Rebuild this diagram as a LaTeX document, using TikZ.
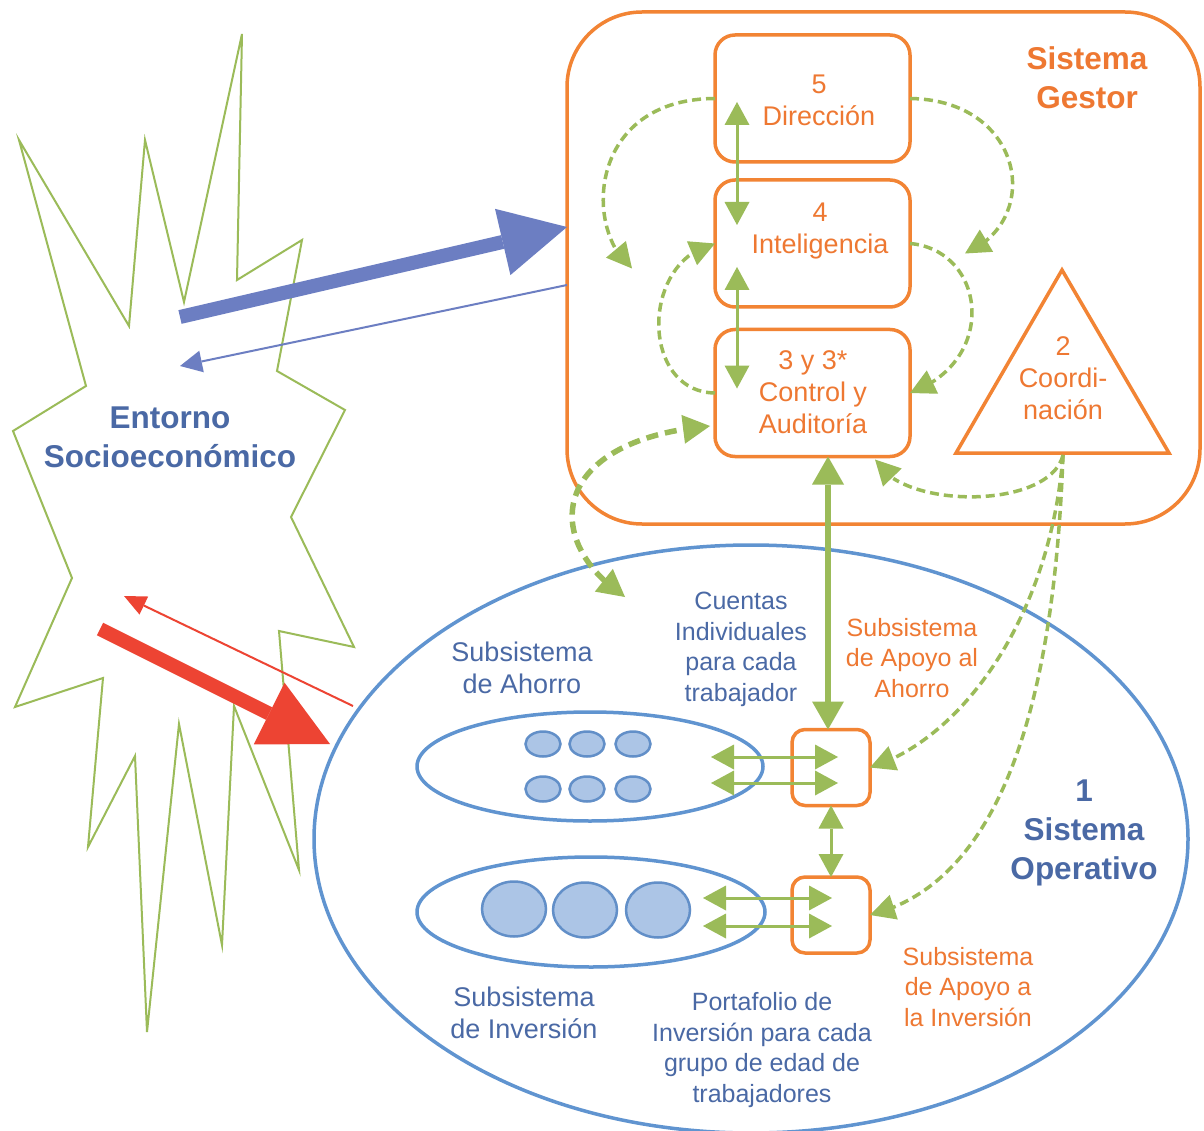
\documentclass[tikz,border=0pt]{standalone}
\usepackage{fontspec}
\setmainfont{Liberation Sans}
\usetikzlibrary{arrows.meta,calc,shapes.geometric,bending}
\definecolor{ora}{RGB}{242,132,52}
\definecolor{orat}{RGB}{238,120,50}
\definecolor{grn}{RGB}{155,187,89}
\definecolor{blu}{RGB}{96,148,208}
\definecolor{blut}{RGB}{74,105,165}
\definecolor{cfill}{RGB}{172,197,230}
\definecolor{cline}{RGB}{98,143,200}
\definecolor{barr}{RGB}{108,126,194}
\definecolor{rd}{RGB}{237,68,51}
\newcommand\fsA{\fontsize{27}{32}\selectfont}
\newcommand\fsB{\fontsize{25}{30.5}\selectfont}
\newcommand\fsC{\fontsize{31.5}{39}\selectfont\bfseries}
\tikzset{
  box/.style={draw=ora, line width=3.5pt, rounded corners=20pt, minimum width=195pt, minimum height=127pt},
  sbox/.style={draw=ora, line width=3.5pt, rounded corners=13pt, minimum width=78pt, minimum height=76pt},
  gest/.style={draw=ora, line width=3.5pt, rounded corners=75pt, minimum width=633pt, minimum height=512pt},
  oell/.style={draw=blu, line width=3.5pt, ellipse},
  dot/.style={draw=cline, fill=cfill, line width=2.5pt, ellipse},
  otx/.style={text=orat, align=center, font=\fsA},
  otxs/.style={text=orat, align=center, font=\fsB},
  btx/.style={text=blut, align=center, font=\fsA},
  btxs/.style={text=blut, align=center, font=\fsB},
  btitle/.style={text=blut, align=center, font=\fsC},
  otitle/.style={text=orat, align=center, font=\fsC},
  gsolid/.style={grn, line width=3pt, {Triangle[length=23pt,width=25pt,line width=0pt]}-{Triangle[length=23pt,width=25pt,line width=0pt]}},
  gthick/.style={grn, line width=5.5pt, {Triangle[length=28pt,width=32pt,line width=0pt]}-{Triangle[length=28pt,width=32pt,line width=0pt]}},
  gdash/.style={grn, line width=3.5pt, dash pattern=on 9pt off 5pt, -{Triangle[length=25pt,width=26pt,line width=0pt]}},
  gthickdash/.style={grn, line width=5.5pt, dash pattern=on 12pt off 7pt, {Triangle[length=27pt,width=29pt,line width=0pt]}-{Triangle[length=27pt,width=29pt,line width=0pt]}},
}
\begin{document}
\begin{tikzpicture}[x=1pt,y=-1pt, every node/.append style={inner sep=0pt, outer sep=0pt}]
\useasboundingbox (0,0) rectangle (1204,1131);
\fill[white] (0,0) rectangle (1204,1131);

% environment star
\draw[grn, line width=2pt, line join=miter]
 (19,140) -- (129,326) -- (145,140) -- (184,302) -- (242,34) -- (237,280) -- (302,240)
 -- (277,371) -- (345,410) -- (291,517) -- (354,647) -- (279,631) -- (299,870) -- (234,706)
 -- (222,945) -- (179,724) -- (147,1032) -- (135,756) -- (88,847) -- (103,678) -- (15,707)
 -- (72,578) -- (13,431) -- (86,386) -- cycle;

% operative system
\node[oell, minimum width=874pt, minimum height=588pt] (opsys) at (751,839) {};
\node[oell, minimum width=346pt, minimum height=109pt] (ahorro) at (590,766.5) {};
\node[oell, minimum width=348pt, minimum height=110pt] (inver) at (591,912) {};
\foreach \x/\n in {543/1,587/2,633/3}{
  \node[dot, minimum width=35pt, minimum height=25pt] (ca\n) at (\x,744) {};
  \node[dot, minimum width=35pt, minimum height=25pt] (cb\n) at (\x,789) {};
}
\node[dot, minimum width=64pt, minimum height=55pt] (pa) at (514,909) {};
\node[dot, minimum width=64pt, minimum height=55pt] (pb) at (585,910) {};
\node[dot, minimum width=64pt, minimum height=55pt] (pc) at (658,910) {};

% managing system
\node[gest] (gestor) at (883.5,268) {};
\node[box] (b5) at (812.5,98.5) {};
\node[box] (b4) at (812.5,243.5) {};
\node[box] (b3) at (812.5,393) {};
\draw[ora, line width=3.5pt, line join=miter] (1062,270) -- (1169,453) -- (956,453) -- cycle;
\coordinate (tribot) at (1063,455);
\node[sbox] (sa) at (831,767.5) {};
\node[sbox] (sb) at (831,915) {};

% texts
\node[otx] (t5) at (819,100.5) {5\\Dirección};
\node[otx] (t4) at (820,231) {4\\Inteligencia};
\node[otx] (t3) at (813,392) {3 y 3*\\Control y\\Auditoría};
\node[otx] (t2) at (1063,378.5) {2\\Coordi-\\nación};
\node[otitle] (tg) at (1087,77.5) {Sistema\\Gestor};
\node[btitle] (te) at (170,437) {Entorno\\Socioeconómico};
\node[btitle] (to) at (1084,832.5) {1\\Sistema\\Operativo};
\node[btx] (tsa) at (522,668) {Subsistema\\de Ahorro};
\node[btx] (tsi) at (524,1013) {Subsistema\\de Inversión};
\node[btxs] (tci) at (741,649.5) {Cuentas\\Individuales\\para cada\\trabajador};
\node[btxs] (tpi) at (762,1050) {Portafolio de\\Inversión para cada\\grupo de edad de\\trabajadores};
\node[otxs] (taa) at (912,658) {Subsistema\\de Apoyo al\\Ahorro};
\node[otxs] (tai) at (968,987) {Subsistema\\de Apoyo a\\la Inversión};

% environment arrows
\coordinate (envB1) at (180,317);
\coordinate (envB2) at (180,366);
\coordinate (envR1) at (100,629);
\coordinate (envR2) at (124,596);
\coordinate (opR1) at (330,744);
\coordinate (opR2) at (353,706);
\draw[barr, line width=14pt, -{Triangle[length=66pt,width=68pt,line width=0pt]}] (envB1) -- ($(gestor.west)+(0,-41)$);
\draw[barr, line width=2pt, -{Triangle[length=22pt,width=22pt,line width=0pt]}] ($(gestor.west)+(0,17)$) -- (envB2);
\draw[rd, line width=14pt, -{Triangle[length=68pt,width=69pt,line width=0pt]}] (envR1) -- (opR1);
\draw[rd, line width=2pt, -{Triangle[length=22pt,width=20pt,line width=0pt]}] (opR2) -- (envR2);

% solid green arrows
\draw[gsolid] ($(b5.south west)+(22,-60)$) -- ($(b4.north west)+(22,45)$);
\draw[gsolid] ($(b4.south west)+(22,-40)$) -- ($(b3.north west)+(22,59)$);
\draw[gthick] ($(b3.south)+(15.5,0)$) -- ($(sa.north)+(-3,0)$);
\draw[gsolid] (sa.south) -- (sb.north);
\draw[gsolid] ($(ahorro.east)+(-52,-9.5)$) -- ($(sa.center)+(7,-10.5)$);
\draw[gsolid] ($(ahorro.east)+(-52,16.5)$) -- ($(sa.center)+(7,15.5)$);
\draw[gsolid] ($(inver.east)+(-62,-14)$) -- ($(sb.center)+(1,-17)$);
\draw[gsolid] ($(inver.east)+(-62,14)$) -- ($(sb.center)+(1,11)$);

% dashed green arrows
\draw[gdash] (b5.west) .. controls (588,99) and (583,230) .. ($(b4.west)+(-83,25)$);
\draw[gdash] (b5.east) .. controls (1024,100) and (1044,220) .. ($(b4.east)+(55,10)$);
\draw[gdash] (b4.east) .. controls (985,250) and (1000,360) .. (b3.east);
\draw[gdash] (b3.west) .. controls (640,392) and (640,260) .. (b4.west);
\draw[gdash] (tribot) .. controls (1050,510) and (900,510) .. ($(b3.south east)+(-35,3)$);
\draw[gdash] (tribot) .. controls (1050,620) and (960,740) .. (sa.east);
\draw[gdash] (tribot) .. controls (1055,680) and (1010,880) .. (sb.east);
\coordinate (cOp) at (625,597);
\draw[gthickdash] (cOp) .. controls (540,540) and (550,440) .. ($(b3.west)+(-5,33)$);
\end{tikzpicture}
\end{document}
